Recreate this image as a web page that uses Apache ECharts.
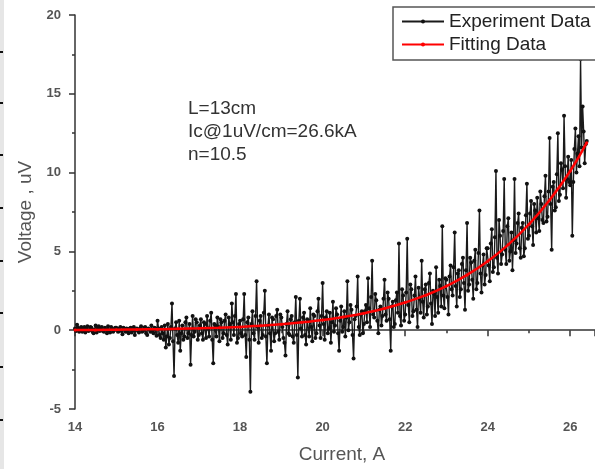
<!DOCTYPE html>
<html>
<head>
<meta charset="utf-8">
<script src="https://cdn.jsdelivr.net/npm/echarts@6/dist/echarts.min.js"></script>
<style>html,body{margin:0;padding:0;background:#fff;}#chart{width:595px;height:469px;}</style>
</head>
<body>
<div id="chart"></div>
<script>
// Experiment data: current (A)
var current = [
14.000,14.025,14.050,14.075,14.100,14.125,14.150,14.175,14.200,14.225,14.250,14.275,14.300,14.325,14.350,14.375,14.400,14.425,14.450,14.475,14.500,14.525,14.550,14.575,14.600,14.625,14.650,14.675,14.700,14.725,14.750,14.775,14.800,14.825,14.850,14.875,14.900,14.925,14.950,14.975,
15.000,15.025,15.050,15.075,15.100,15.125,15.150,15.175,15.200,15.225,15.250,15.275,15.300,15.325,15.350,15.375,15.400,15.425,15.450,15.475,15.500,15.525,15.550,15.575,15.600,15.625,15.650,15.675,15.700,15.725,15.750,15.775,15.800,15.825,15.850,15.875,15.900,15.925,15.950,15.975,
16.000,16.025,16.050,16.075,16.100,16.125,16.150,16.175,16.200,16.225,16.250,16.275,16.300,16.325,16.350,16.375,16.400,16.425,16.450,16.475,16.500,16.525,16.550,16.575,16.600,16.625,16.650,16.675,16.700,16.725,16.750,16.775,16.800,16.825,16.850,16.875,16.900,16.925,16.950,16.975,
17.000,17.025,17.050,17.075,17.100,17.125,17.150,17.175,17.200,17.225,17.250,17.275,17.300,17.325,17.350,17.375,17.400,17.425,17.450,17.475,17.500,17.525,17.550,17.575,17.600,17.625,17.650,17.675,17.700,17.725,17.750,17.775,17.800,17.825,17.850,17.875,17.900,17.925,17.950,17.975,
18.000,18.025,18.050,18.075,18.100,18.125,18.150,18.175,18.200,18.225,18.250,18.275,18.300,18.325,18.350,18.375,18.400,18.425,18.450,18.475,18.500,18.525,18.550,18.575,18.600,18.625,18.650,18.675,18.700,18.725,18.750,18.775,18.800,18.825,18.850,18.875,18.900,18.925,18.950,18.975,
19.000,19.025,19.050,19.075,19.100,19.125,19.150,19.175,19.200,19.225,19.250,19.275,19.300,19.325,19.350,19.375,19.400,19.425,19.450,19.475,19.500,19.525,19.550,19.575,19.600,19.625,19.650,19.675,19.700,19.725,19.750,19.775,19.800,19.825,19.850,19.875,19.900,19.925,19.950,19.975,
20.000,20.025,20.050,20.075,20.100,20.125,20.150,20.175,20.200,20.225,20.250,20.275,20.300,20.325,20.350,20.375,20.400,20.425,20.450,20.475,20.500,20.525,20.550,20.575,20.600,20.625,20.650,20.675,20.700,20.725,20.750,20.775,20.800,20.825,20.850,20.875,20.900,20.925,20.950,20.975,
21.000,21.025,21.050,21.075,21.100,21.125,21.150,21.175,21.200,21.225,21.250,21.275,21.300,21.325,21.350,21.375,21.400,21.425,21.450,21.475,21.500,21.525,21.550,21.575,21.600,21.625,21.650,21.675,21.700,21.725,21.750,21.775,21.800,21.825,21.850,21.875,21.900,21.925,21.950,21.975,
22.000,22.025,22.050,22.075,22.100,22.125,22.150,22.175,22.200,22.225,22.250,22.275,22.300,22.325,22.350,22.375,22.400,22.425,22.450,22.475,22.500,22.525,22.550,22.575,22.600,22.625,22.650,22.675,22.700,22.725,22.750,22.775,22.800,22.825,22.850,22.875,22.900,22.925,22.950,22.975,
23.000,23.025,23.050,23.075,23.100,23.125,23.150,23.175,23.200,23.225,23.250,23.275,23.300,23.325,23.350,23.375,23.400,23.425,23.450,23.475,23.500,23.525,23.550,23.575,23.600,23.625,23.650,23.675,23.700,23.725,23.750,23.775,23.800,23.825,23.850,23.875,23.900,23.925,23.950,23.975,
24.000,24.025,24.050,24.075,24.100,24.125,24.150,24.175,24.200,24.225,24.250,24.275,24.300,24.325,24.350,24.375,24.400,24.425,24.450,24.475,24.500,24.525,24.550,24.575,24.600,24.625,24.650,24.675,24.700,24.725,24.750,24.775,24.800,24.825,24.850,24.875,24.900,24.925,24.950,24.975,
25.000,25.025,25.050,25.075,25.100,25.125,25.150,25.175,25.200,25.225,25.250,25.275,25.300,25.325,25.350,25.375,25.400,25.425,25.450,25.475,25.500,25.525,25.550,25.575,25.600,25.625,25.650,25.675,25.700,25.725,25.750,25.775,25.800,25.825,25.850,25.875,25.900,25.925,25.950,25.975,
26.000,26.025,26.050,26.075,26.100,26.125,26.150,26.175,26.200,26.225,26.250,26.275,26.300,26.325,26.350,26.375,26.400
];
// Experiment data: measured voltage (uV)
var voltage = [
0.10,-0.05,0.35,0.15,-0.10,0.05,0.20,-0.10,0.05,0.20,-0.15,0.10,0.25,-0.05,0.00,0.20,0.15,-0.10,-0.20,0.05,0.30,-0.15,0.10,0.25,-0.05,0.10,0.20,-0.05,-0.10,0.15,0.05,-0.20,0.25,0.00,-0.15,0.20,0.10,-0.10,0.00,0.15,
0.15,0.00,-0.10,0.10,0.20,-0.05,-0.25,0.15,0.05,-0.10,0.10,-0.05,-0.20,0.10,0.15,-0.15,0.00,0.20,-0.30,0.05,0.10,-0.05,-0.15,0.10,0.25,-0.10,-0.05,0.15,0.20,-0.20,-0.30,0.10,0.05,-0.10,0.30,0.00,-0.20,0.15,0.10,-0.35,
0.60,0.10,-0.30,-0.50,0.20,-0.20,-0.60,0.30,-1.10,-0.40,0.40,-0.90,-0.50,0.20,1.70,-0.70,-2.90,0.10,0.50,-0.30,-0.80,0.60,-1.30,-0.20,0.30,-0.60,-0.40,0.50,0.80,-0.50,-0.20,0.40,-2.20,-0.30,0.90,-0.40,-0.10,0.70,0.50,-0.60,
-0.30,0.30,0.70,-0.20,-0.60,0.50,0.40,-0.50,0.90,0.10,-0.40,0.60,1.10,-0.60,-2.10,0.40,0.30,-0.40,0.80,0.20,-0.70,0.70,0.50,-0.50,-0.20,0.60,1.00,-0.30,-0.90,0.80,0.40,-0.60,1.70,0.50,-0.30,0.90,2.30,-0.80,-0.50,0.40,
0.60,-0.20,-0.40,0.70,2.30,-0.30,-1.70,0.50,0.80,-0.60,-3.90,0.40,1.20,-0.20,-0.60,0.90,3.10,0.20,-0.80,0.60,0.90,-0.50,-0.30,1.10,2.50,-0.40,-2.10,0.30,1.00,-0.20,-1.30,0.80,0.70,-0.70,-0.20,0.90,1.30,-0.10,-0.60,1.00,
0.80,0.20,-0.50,-0.80,-1.60,0.40,1.20,-0.20,-0.30,0.70,0.90,-0.40,-0.80,0.50,2.10,-0.30,-3.00,0.60,2.00,0.10,-0.40,0.80,1.10,-0.30,-0.90,0.70,0.60,-0.40,1.40,0.20,-0.70,1.00,0.90,-0.50,-0.20,1.20,2.00,0.30,-0.50,0.90,
3.00,0.40,-0.60,0.80,1.20,-0.20,0.10,1.10,-0.80,0.50,1.80,-0.10,0.30,1.40,1.00,-0.20,-1.30,0.60,1.50,-0.10,0.20,1.20,-0.40,0.80,3.10,0.00,0.50,1.60,1.30,-0.30,-1.80,0.70,0.90,1.50,3.40,0.20,-0.30,1.00,1.20,-0.20,
0.40,1.20,1.60,0.50,3.30,1.40,0.20,2.10,4.40,1.00,0.80,2.30,1.90,0.60,-0.20,1.30,1.50,0.30,0.90,2.00,3.20,1.00,0.60,2.40,2.00,0.70,-1.30,1.50,1.80,0.20,0.40,1.90,2.40,1.10,5.50,0.90,0.30,2.60,2.20,0.60,
1.00,2.40,5.80,1.60,0.50,2.90,2.60,0.90,1.20,2.20,3.40,1.30,0.20,2.70,2.00,1.10,4.40,1.80,0.80,2.60,2.90,1.00,1.50,3.00,3.60,1.70,0.40,2.50,2.30,0.90,4.00,2.10,1.10,3.20,2.80,1.50,6.60,2.20,1.40,3.30,
3.20,2.10,1.00,3.40,4.10,2.60,2.20,4.00,6.20,2.80,1.50,3.60,3.80,2.10,2.60,4.20,4.60,3.00,1.30,3.80,6.80,2.50,2.90,4.60,4.30,3.20,2.00,4.40,5.10,2.60,3.00,4.90,7.60,3.60,2.40,4.10,4.80,2.90,3.50,5.20,
5.20,4.10,3.10,5.50,6.40,3.70,4.00,5.90,10.10,4.60,3.60,7.00,6.00,4.20,4.80,6.30,9.60,5.10,4.20,6.60,7.10,4.40,5.00,6.20,3.80,5.70,9.60,4.90,5.50,6.80,7.40,5.20,4.60,6.50,6.80,4.70,5.20,7.30,9.30,5.80,
6.00,7.40,8.20,6.60,5.40,8.00,7.60,6.20,8.40,7.10,6.30,8.80,8.00,7.00,6.80,8.50,9.80,6.90,7.20,8.80,12.20,8.00,5.10,9.10,9.40,7.60,7.80,9.90,12.50,8.20,8.60,10.60,10.20,9.00,13.60,10.40,8.40,9.60,11.00,9.40,
9.20,10.80,6.00,9.40,11.50,12.80,10.00,11.20,12.30,10.40,17.20,11.60,14.20,12.60,10.60,11.80,12.00
];
// Fitting curve
var fitCurrent = [14.0,14.5,15.0,15.5,16.0,16.5,17.0,17.5,18.0,18.5,19.0,19.5,20.0,20.5,21.0,21.5,22.0,22.5,23.0,23.5,24.0,24.5,25.0,25.5,26.0,26.4];
var fitVoltage = [0.02,0.02,0.03,0.05,0.06,0.09,0.12,0.16,0.21,0.29,0.38,0.50,0.64,0.84,1.08,1.38,1.76,2.22,2.80,3.51,4.38,5.43,6.72,8.26,10.10,11.90];
var yTicks = [-5, 0, 5, 10, 15, 20];
var xTicks = [14, 16, 18, 20, 22, 24, 26];
var seriesNames = ['Experiment Data', 'Fitting Data'];
var notes = ['L=13cm', 'Ic@1uV/cm=26.6kA', 'n=10.5'];

var FONT = 'Arial, "Liberation Sans", sans-serif';
var expData = current.map(function (c, i) { return [c, voltage[i]]; });
var fitData = fitCurrent.map(function (c, i) { return [c, fitVoltage[i]]; });

var edgeMarks = [52, 103, 155, 208, 261, 313, 367, 420];
var graphics = [{ type: 'rect', shape: { x: 0, y: 0, width: 4, height: 469 }, style: { fill: '#e6e6e6' }, silent: true }];
edgeMarks.forEach(function (y) {
  graphics.push({ type: 'rect', shape: { x: 0, y: y - 1, width: 3, height: 2 }, style: { fill: '#111' }, silent: true });
});
graphics.push({
  type: 'text', left: 188, top: 97, silent: true,
  style: { text: notes.join('\n'), fontSize: 19, lineHeight: 23, fill: '#333', fontFamily: FONT }
});
// legend frame (extends past the right edge, as in the reference)
graphics.push({
  type: 'rect', z: 3, silent: true,
  shape: { x: 393, y: 7, width: 230, height: 53 },
  style: { fill: '#fff', stroke: '#555', lineWidth: 1.5 }
});

var chart = echarts.init(document.getElementById('chart'), null, { renderer: 'canvas' });
chart.setOption({
  animation: false,
  backgroundColor: '#fff',
  grid: { left: 75, right: 0, top: 15, bottom: 59, containLabel: false },
  xAxis: {
    type: 'value', min: 14, max: 26.6, interval: 2,
    name: 'Current, A', nameLocation: 'middle', nameGap: 36,
    nameTextStyle: { fontSize: 19, color: '#555', fontFamily: FONT, padding: [0, 0, 0, 14] },
    axisLine: { show: true, lineStyle: { color: '#333', width: 1.5 } },
    axisTick: { show: true, inside: false, length: 6, lineStyle: { color: '#333', width: 1.5 } },
    minorTick: { show: true, splitNumber: 2, length: 3, lineStyle: { color: '#333', width: 1.5 } },
    splitLine: { show: false },
    axisLabel: {
      margin: 12, fontSize: 13, fontWeight: 'bold', color: '#555', fontFamily: FONT, showMaxLabel: false,
      formatter: function (v) { return xTicks.indexOf(v) >= 0 ? String(v) : ''; }
    }
  },
  yAxis: {
    type: 'value', min: -5, max: 20, interval: 5,
    name: 'Voltage , uV', nameLocation: 'middle', nameGap: 40, nameRotate: 90,
    nameTextStyle: { fontSize: 19, color: '#555', fontFamily: FONT },
    axisLine: { show: true, lineStyle: { color: '#333', width: 1.5 } },
    axisTick: { show: true, inside: false, length: 6, lineStyle: { color: '#333', width: 1.5 } },
    minorTick: { show: true, splitNumber: 2, length: 3, lineStyle: { color: '#333', width: 1.5 } },
    splitLine: { show: false },
    axisLabel: {
      margin: 14, fontSize: 13, fontWeight: 'bold', color: '#555', fontFamily: FONT,
      formatter: function (v) { return yTicks.indexOf(v) >= 0 ? String(v) : ''; }
    }
  },
  legend: {
    orient: 'vertical', left: 393, top: 10, z: 5,
    padding: [2, 0, 0, 8], itemGap: 4, itemWidth: 42, itemHeight: 5,
    textStyle: { fontSize: 19, color: '#222', fontFamily: FONT },
    data: seriesNames
  },
  series: [
    {
      name: seriesNames[0], type: 'line', data: expData,
      symbol: 'circle', symbolSize: 4, showSymbol: true,
      itemStyle: { color: '#111' },
      lineStyle: { color: '#1a1a1a', width: 1.4 },
      z: 2
    },
    {
      name: seriesNames[1], type: 'line', data: fitData, smooth: true,
      symbol: 'circle', symbolSize: 3, showSymbol: true,
      itemStyle: { color: '#ff0000' },
      lineStyle: { color: '#ff0000', width: 2.5 },
      z: 2.5
    }
  ],
  graphic: graphics
});
</script>
</body>
</html>
